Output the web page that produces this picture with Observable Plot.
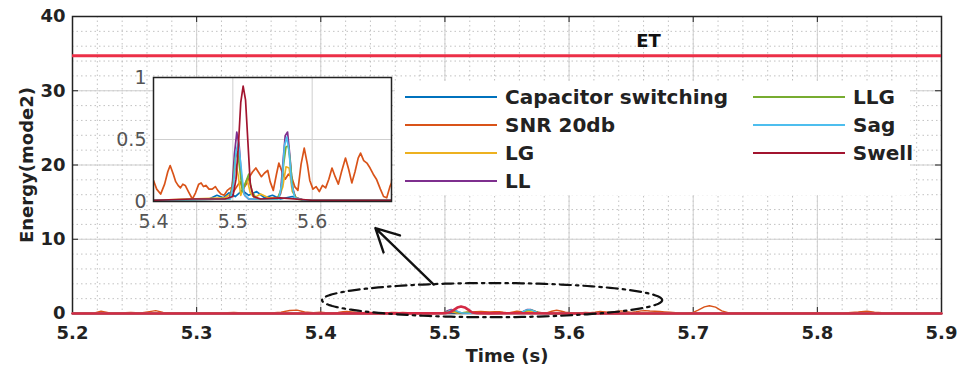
<!DOCTYPE html>
<html>
<head>
<meta charset="utf-8">
<script src="https://cdn.jsdelivr.net/npm/d3@7"></script>
<script src="https://cdn.jsdelivr.net/npm/@observablehq/plot@0.6"></script>
<style>
  body { margin: 0; background: #fff; }
  #wrap { position: relative; width: 961px; height: 377px; overflow: hidden; }
  #wrap > * { position: absolute; }
  #main { left: 0; top: 0; }
  #inset { left: 100px; top: 60px; }
  #legend {
    left: 395px; top: 81px; width: 515px; height: 114px; background: #fff;
    display: grid; grid-auto-flow: column; grid-template-rows: repeat(4, 28px);
    grid-template-columns: 348px 160px; padding: 2px 0 0 10px; box-sizing: border-box;
    font: bold 20px "DejaVu Sans", sans-serif; color: #222;
  }
  #legend .item { display: flex; align-items: center; white-space: nowrap; }
  #legend .swatch { width: 92px; height: 2px; margin-right: 8px; }
</style>
</head>
<body>
<div id="wrap">
  <div id="main"></div>
  <div id="inset"></div>
  <div id="legend"></div>
</div>
<script>
// ---- series ----
const seriesNames = ["Capacitor switching", "SNR 20db", "LG", "LL", "LLG", "Sag", "Swell"];
const seriesColors = ["#0072bd", "#d95319", "#edb120", "#7e2f8e", "#77ac30", "#4dbeee", "#a2142f"];

const capT = [5.20, 5.40, 5.470, 5.480, 5.488, 5.495, 5.503, 5.512, 5.520, 5.530, 5.540, 5.550, 5.560, 5.575, 5.590, 5.70, 5.90];
const capV = [0, 0.01, 0.02, 0.05, 0.03, 0.07, 0.04, 0.09, 0.05, 0.08, 0.03, 0.05, 0.02, 0.04, 0.01, 0.01, 0];

const snrT = [5.200, 5.210, 5.217, 5.223, 5.229, 5.238, 5.247, 5.255, 5.262, 5.267, 5.273, 5.282, 5.291, 5.300,
  5.310, 5.320, 5.330, 5.340, 5.350, 5.360, 5.368, 5.375, 5.381, 5.387, 5.394,
  5.400, 5.404, 5.409, 5.414, 5.418, 5.421, 5.425, 5.428, 5.431, 5.434, 5.437, 5.440, 5.444, 5.449, 5.453,
  5.457, 5.460, 5.463, 5.466, 5.470, 5.474, 5.478, 5.481, 5.485, 5.489, 5.493, 5.497, 5.501, 5.505, 5.509,
  5.513, 5.517, 5.521, 5.525, 5.529, 5.532, 5.536, 5.540, 5.544, 5.547, 5.551, 5.555, 5.558, 5.562, 5.566,
  5.570, 5.574, 5.578, 5.582, 5.586, 5.590, 5.594, 5.597, 5.601, 5.605, 5.609, 5.613, 5.617, 5.621, 5.625,
  5.629, 5.633, 5.637, 5.642, 5.646, 5.650, 5.654, 5.658, 5.661, 5.665, 5.669, 5.673, 5.677, 5.681, 5.686,
  5.690, 5.694, 5.698, 5.700, 5.704, 5.709, 5.713, 5.718, 5.723, 5.728, 5.737, 5.748, 5.760, 5.772, 5.785,
  5.797, 5.810, 5.822, 5.833, 5.840, 5.846, 5.855, 5.866, 5.878, 5.890, 5.900];
const snrV = [0.04, 0.08, 0.05, 0.30, 0.12, 0.06, 0.15, 0.08, 0.25, 0.38, 0.15, 0.06, 0.12, 0.05,
  0.10, 0.06, 0.14, 0.05, 0.09, 0.07, 0.18, 0.40, 0.45, 0.20, 0.10,
  0.17, 0.10, 0.06, 0.14, 0.24, 0.29, 0.22, 0.16, 0.13, 0.11, 0.14, 0.13, 0.08, 0.02, 0.07,
  0.14, 0.15, 0.12, 0.13, 0.10, 0.10, 0.12, 0.09, 0.06, 0.05, 0.09, 0.11, 0.08, 0.12, 0.16,
  0.10, 0.14, 0.20, 0.24, 0.27, 0.24, 0.20, 0.23, 0.25, 0.16, 0.09, 0.22, 0.31, 0.24, 0.18,
  0.22, 0.20, 0.12, 0.09, 0.30, 0.43, 0.30, 0.17, 0.10, 0.12, 0.08, 0.13, 0.11, 0.18, 0.27,
  0.20, 0.14, 0.24, 0.35, 0.26, 0.15, 0.24, 0.35, 0.39, 0.33, 0.31, 0.27, 0.22, 0.18, 0.10,
  0.04, 0.03, 0.12, 0.15, 0.45, 0.90, 1.05, 0.85, 0.35, 0.10, 0.06, 0.12, 0.05, 0.10, 0.06,
  0.12, 0.05, 0.09, 0.20, 0.32, 0.18, 0.06, 0.10, 0.05, 0.08, 0.04];

const lgT = [5.20, 5.40, 5.490, 5.497, 5.501, 5.504, 5.507, 5.510, 5.514, 5.518, 5.522, 5.527, 5.535, 5.545, 5.558, 5.563, 5.567, 5.571, 5.575, 5.580, 5.590, 5.70, 5.90];
const lgV = [0, 0.01, 0.03, 0.06, 0.20, 0.30, 0.20, 0.05, 0.12, 0.18, 0.07, 0.03, 0.06, 0.03, 0.03, 0.12, 0.28, 0.27, 0.08, 0.03, 0.01, 0.01, 0];

const llT = [5.20, 5.40, 5.495, 5.499, 5.502, 5.505, 5.508, 5.511, 5.515, 5.520, 5.555, 5.560, 5.563, 5.566, 5.569, 5.572, 5.575, 5.579, 5.590, 5.70, 5.90];
const llV = [0, 0.01, 0.02, 0.10, 0.38, 0.56, 0.45, 0.18, 0.05, 0.02, 0.02, 0.06, 0.30, 0.53, 0.56, 0.36, 0.12, 0.03, 0.01, 0.01, 0];

const llgT = [5.20, 5.40, 5.496, 5.500, 5.503, 5.506, 5.509, 5.512, 5.516, 5.520, 5.524, 5.530, 5.556, 5.561, 5.564, 5.567, 5.570, 5.573, 5.576, 5.580, 5.590, 5.70, 5.90];
const llgV = [0, 0.01, 0.02, 0.12, 0.35, 0.40, 0.25, 0.08, 0.15, 0.22, 0.08, 0.02, 0.02, 0.10, 0.30, 0.44, 0.45, 0.28, 0.08, 0.02, 0.01, 0.01, 0];

const sagT = [5.20, 5.40, 5.497, 5.501, 5.504, 5.507, 5.510, 5.514, 5.520, 5.558, 5.562, 5.565, 5.568, 5.571, 5.574, 5.578, 5.590, 5.70, 5.90];
const sagV = [0, 0.01, 0.02, 0.15, 0.40, 0.48, 0.30, 0.06, 0.02, 0.02, 0.15, 0.45, 0.52, 0.40, 0.15, 0.03, 0.01, 0.01, 0];

const swellT = [5.20, 5.30, 5.40, 5.45, 5.49, 5.500, 5.504, 5.507, 5.510, 5.513, 5.516, 5.519, 5.522, 5.526, 5.535, 5.560, 5.600, 5.700, 5.800, 5.900];
const swellV = [0.01, 0.01, 0.01, 0.02, 0.02, 0.04, 0.18, 0.45, 0.80, 0.93, 0.82, 0.48, 0.14, 0.04, 0.02, 0.03, 0.01, 0.01, 0.01, 0.01];

// energy threshold
const etValue = 34.7;
const etLabel = "ET";
const etLabelX = 5.664;

// axes
const xTicks = [5.2, 5.3, 5.4, 5.5, 5.6, 5.7, 5.8, 5.9];
const yTicks = [0, 10, 20, 30, 40];
const insetXTicks = [5.4, 5.5, 5.6];
const insetYTicks = [0, 0.5, 1];
const xLabel = "Time (s)";
const yLabel = "Energy(mode2)";

// zoom callout (ellipse around the disturbance window, arrow to the inset)
const callout = { cx: 5.538, cy: 1.8, rx: 0.137, ry: 2.3 };
const pointer = { x1: 5.491, y1: 3.9, x2: 5.444, y2: 11.5 };

// ---- build tidy rows ----
const seriesT = [capT, snrT, lgT, llT, llgT, sagT, swellT];
const seriesV = [capV, snrV, lgV, llV, llgV, sagV, swellV];
const rows = seriesNames.flatMap((name, i) =>
  seriesT[i].map((t, j) => ({ series: name, t, v: seriesV[i][j] })));

const colorScale = { domain: seriesNames, range: seriesColors };
const minorX = d3.range(5.2, 5.9001, 0.02);
const minorY = d3.range(0, 40.001, 2);
const ellipsePts = d3.range(0, 2 * Math.PI + 0.01, Math.PI / 90).map(a => ({
  x: callout.cx + callout.rx * Math.cos(a), y: callout.cy + callout.ry * Math.sin(a)
}));

const W = 961, H = 377, mT = 16, mB = 64, mL = 72, mR = 20;
const innerH = H - mT - mB, innerW = W - mL - mR;

const main = Plot.plot({
  width: W, height: H,
  marginTop: mT, marginBottom: mB, marginLeft: mL, marginRight: mR,
  x: { domain: [5.2, 5.9] },
  y: { domain: [0, 40] },
  color: colorScale,
  style: { fontFamily: "DejaVu Sans", fontWeight: "bold", fontSize: "18px", color: "#222", background: "transparent" },
  marks: [
    Plot.gridX(minorX, { stroke: "#a8a8a8", strokeOpacity: 0.7, strokeDasharray: "1.5,3" }),
    Plot.gridY(minorY, { stroke: "#a8a8a8", strokeOpacity: 0.7, strokeDasharray: "1.5,3" }),
    Plot.gridX(xTicks, { stroke: "#cfcfcf", strokeOpacity: 1 }),
    Plot.gridY(yTicks, { stroke: "#cfcfcf", strokeOpacity: 1 }),
    Plot.frame({ stroke: "#222", strokeWidth: 1.5 }),
    Plot.tickX(xTicks, { x: d => d, insetTop: innerH - 6, stroke: "#222" }),
    Plot.tickX(xTicks, { x: d => d, insetBottom: innerH - 6, stroke: "#222" }),
    Plot.tickY(yTicks, { y: d => d, insetRight: innerW - 6, stroke: "#222" }),
    Plot.tickY(yTicks, { y: d => d, insetLeft: innerW - 6, stroke: "#222" }),
    Plot.line(rows.filter(d => d.series !== "Swell"), { x: "t", y: "v", z: "series", stroke: "series", strokeWidth: 1.4 }),
    Plot.line(rows.filter(d => d.series === "Swell"), { x: "t", y: "v", stroke: "#d42a45", strokeWidth: 2.6 }),
    Plot.ruleY([etValue], { stroke: "#ec2f47", strokeWidth: 3 }),
    Plot.text([etLabel], { x: etLabelX, y: etValue, text: d => d, dy: -15, fontSize: 18, fontWeight: "bold", fill: "#111" }),
    Plot.line(ellipsePts, { x: "x", y: "y", stroke: "#111", strokeWidth: 2.2, strokeDasharray: "11,5,2.5,5", curve: "linear" }),
    Plot.arrow([pointer], { x1: "x1", y1: "y1", x2: "x2", y2: "y2", stroke: "#111", strokeWidth: 2.4, headLength: 16, headAngle: 55 }),
    Plot.axisX(xTicks, { tickSize: 0, tickPadding: 13, tickFormat: d => d.toFixed(1), label: xLabel, labelAnchor: "center", labelOffset: 48, labelArrow: "none" }),
    Plot.axisY(yTicks, { tickSize: 0, tickPadding: 7, tickFormat: d => String(d), label: yLabel, labelAnchor: "center", labelOffset: 52, labelArrow: "none" })
  ]
});
document.getElementById("main").appendChild(main);

// ---- inset zoom 5.4–5.7 s ----
const iW = 300, iH = 175, imL = 53, imT = 17, imR = 9, imB = 34;
const inset = Plot.plot({
  width: iW, height: iH,
  marginTop: imT, marginBottom: imB, marginLeft: imL, marginRight: imR,
  x: { domain: [5.4, 5.7] },
  y: { domain: [0, 1] },
  color: colorScale,
  style: { fontFamily: "DejaVu Sans", fontSize: "19px", color: "#555", background: "transparent" },
  marks: [
    Plot.frame({ fill: "#fff" }),
    Plot.gridX(insetXTicks, { stroke: "#cfcfcf", strokeOpacity: 1 }),
    Plot.gridY(insetYTicks, { stroke: "#cfcfcf", strokeOpacity: 1 }),
    Plot.line(rows, { x: "t", y: "v", z: "series", stroke: "series", strokeWidth: 1.7, clip: true }),
    Plot.frame({ stroke: "#222", strokeWidth: 1.5 }),
    Plot.axisX(insetXTicks, { tickSize: 0, tickPadding: 13, tickFormat: d => d.toFixed(1), label: null }),
    Plot.axisY(insetYTicks, { tickSize: 0, tickPadding: 7, tickFormat: d => String(d), label: null })
  ]
});
document.getElementById("inset").appendChild(inset);

// ---- legend ----
const legend = document.getElementById("legend");
seriesNames.forEach((name, i) => {
  const item = document.createElement("div");
  item.className = "item";
  const sw = document.createElement("span");
  sw.className = "swatch";
  sw.style.background = seriesColors[i];
  const label = document.createElement("span");
  label.textContent = name;
  item.append(sw, label);
  legend.appendChild(item);
});
</script>
</body>
</html>
